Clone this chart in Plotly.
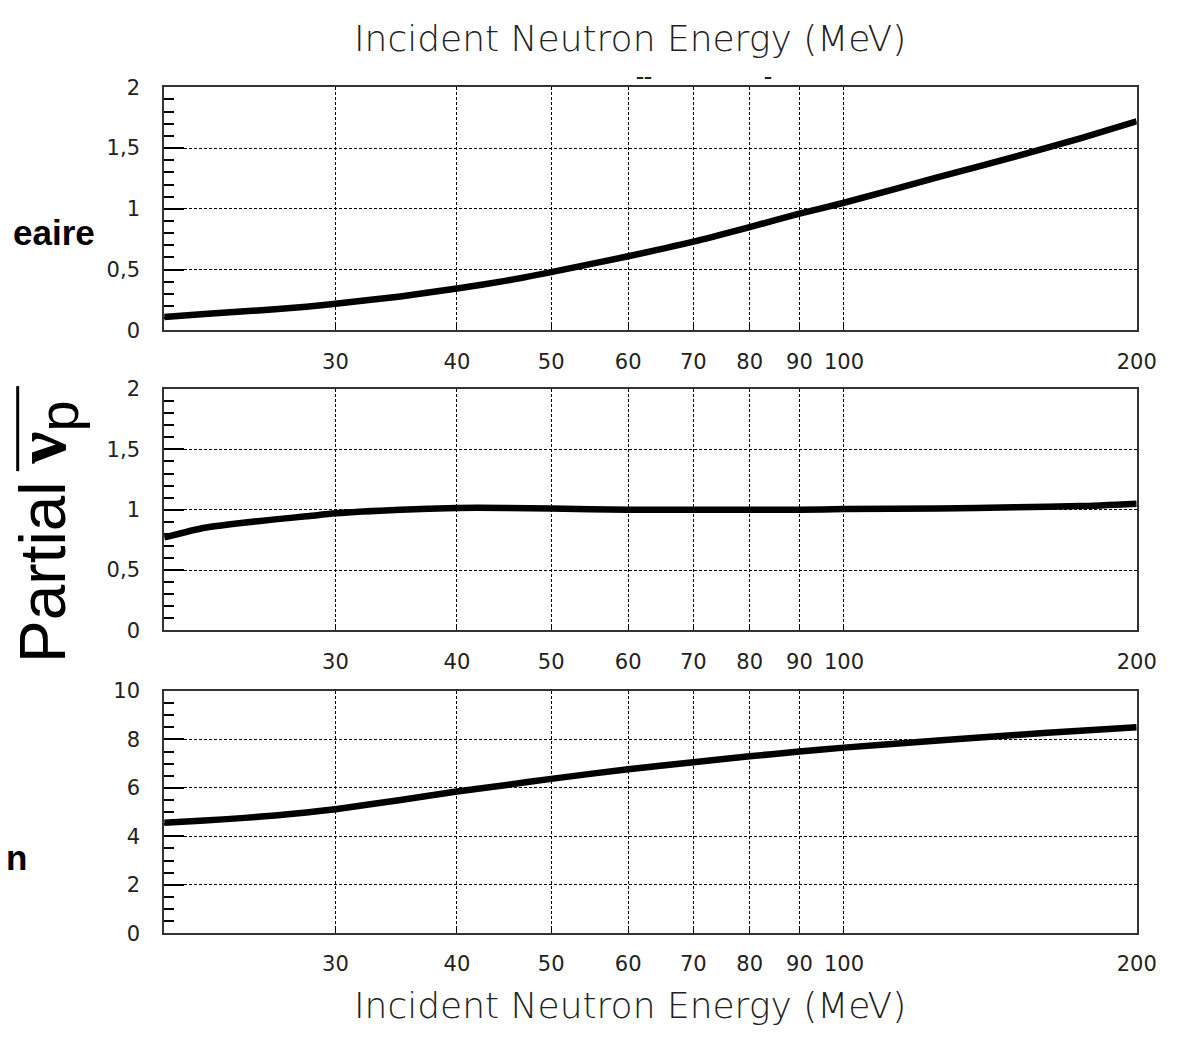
import numpy as np
import plotly.graph_objects as go

# ---------------- data ----------------
energy = [20, 22, 24, 26, 28, 30, 35, 40, 45, 50, 60, 70, 80, 90, 100, 125, 150, 175, 200]
linear_vals = [0.11, 0.135, 0.155, 0.175, 0.195, 0.22, 0.28, 0.345, 0.41, 0.48, 0.61, 0.73,
               0.85, 0.96, 1.05, 1.26, 1.43, 1.58, 1.72]
partial_vals = [0.77, 0.85, 0.89, 0.92, 0.945, 0.97, 1.0, 1.015, 1.015, 1.01, 1.0, 1.0,
                1.0, 1.0, 1.005, 1.01, 1.02, 1.03, 1.05]
bottom_vals = [4.56, 4.65, 4.75, 4.86, 4.98, 5.12, 5.5, 5.85, 6.12, 6.37, 6.77, 7.06,
               7.3, 7.5, 7.66, 7.95, 8.18, 8.36, 8.5]

x_tick_vals = [30, 40, 50, 60, 70, 80, 90, 100, 200]
x_tick_text = ["30", "40", "50", "60", "70", "80", "90", "100", "200"]
y_ticks_small = [0, 0.5, 1, 1.5, 2]
y_text_small = ["0", "0,5", "1", "1,5", "2"]
y_ticks_big = [0, 2, 4, 6, 8, 10]
y_text_big = ["0", "2", "4", "6", "8", "10"]

x_title = "Incident Neutron Energy (MeV)"

# ---------------- layout helpers ----------------
W, H = 1198, 1038


def fx(p):
    return p / W


def fy(p):
    return 1 - p / H


x_domain = [fx(167), fx(1156)]
y_domains = [[fy(326), fy(77)], [fy(633), fy(386)], [fy(943), fy(695)]]

tick_font = dict(family="DejaVu Sans", size=21, color="#222222")
grid_dash = "3px,2px"

fig = go.Figure()

series = [linear_vals, partial_vals, bottom_vals]
for i, vals in enumerate(series):
    suffix = "" if i == 0 else str(i + 1)
    fig.add_trace(go.Scatter(
        x=energy, y=vals, mode="lines",
        line=dict(color="black", width=6.5, shape="spline", smoothing=0.6),
        xaxis="x" + suffix, yaxis="y" + suffix, showlegend=False,
        hoverinfo="skip"))

layout = dict(
    width=W, height=H,
    margin=dict(l=0, r=0, t=0, b=0),
    paper_bgcolor="white", plot_bgcolor="white",
    showlegend=False,
)

for i in range(3):
    suffix = "" if i == 0 else str(i + 1)
    if i < 2:
        yr, yt, ytt, minor_d = [0, 2], y_ticks_small, y_text_small, 0.1
    else:
        yr, yt, ytt, minor_d = [0, 10], y_ticks_big, y_text_big, 0.5
    layout["xaxis" + suffix] = dict(
        type="log", range=[np.log10(20), np.log10(200)],
        domain=x_domain, anchor="y" + suffix,
        tickvals=x_tick_vals, ticktext=x_tick_text,
        ticks="inside", ticklen=5, tickcolor="black", tickwidth=1,
        showline=True, mirror=True, linecolor="#333333", linewidth=2,
        showgrid=True, gridcolor="black", gridwidth=1, griddash=grid_dash,
        zeroline=False, tickfont=tick_font, ticklabelstandoff=11,
    )
    layout["yaxis" + suffix] = dict(
        range=yr, domain=y_domains[i], anchor="x" + suffix,
        tickvals=yt, ticktext=ytt,
        ticks="inside", ticklen=20, tickcolor="black", tickwidth=1.5,
        minor=dict(ticks="inside", ticklen=10, dtick=minor_d, tickcolor="black",
                   tickwidth=1.5, showgrid=False),
        showline=True, mirror=True, linecolor="#333333", linewidth=2,
        showgrid=True, gridcolor="black", gridwidth=1, griddash=grid_dash,
        zeroline=False, tickfont=tick_font, ticklabelstandoff=18,
    )

fig.update_layout(**layout)

title_font = dict(family="DejaVu Sans", size=36, color="#222222", weight=300)
annotations = [
    dict(text=x_title, x=fx(641), y=fy(27), xref="paper", yref="paper",
         showarrow=False, font=title_font, xanchor="center", yanchor="middle"),
    dict(text=x_title, x=fx(641), y=fy(1017), xref="paper", yref="paper",
         showarrow=False, font=title_font, xanchor="center", yanchor="middle"),
    dict(text="<b>eaire</b>", x=fx(99), y=fy(226), xref="paper", yref="paper",
         showarrow=False, xanchor="right", yanchor="middle",
         font=dict(family="Liberation Sans", size=35, color="black")),
    dict(text="<b>n</b>", x=fx(29), y=fy(866), xref="paper", yref="paper",
         showarrow=False, xanchor="right", yanchor="middle",
         font=dict(family="Liberation Sans", size=35, color="black")),
    dict(text="Partial <span style='font-family:Liberation Serif;font-size:72px'><b>ν</b></span>"
              "<sub><span style='font-size:56px'>p</span></sub>",
         x=fx(46), y=fy(532), xref="paper", yref="paper", textangle=-90,
         showarrow=False, xanchor="center", yanchor="middle",
         font=dict(family="Liberation Sans", size=64, color="black")),
    dict(text="<b>––</b>", x=fx(655), y=fy(66), xref="paper", yref="paper",
         showarrow=False, xanchor="center", yanchor="middle",
         font=dict(family="DejaVu Sans", size=16, color="#222222")),
    dict(text="<b>–</b>", x=fx(781), y=fy(66), xref="paper", yref="paper",
         showarrow=False, xanchor="center", yanchor="middle",
         font=dict(family="DejaVu Sans", size=16, color="#222222")),
]
fig.update_layout(annotations=annotations)

# overline above the nu / p symbol
fig.add_shape(type="line", xref="paper", yref="paper",
              x0=fx(18), x1=fx(18), y0=fy(383), y1=fy(470),
              line=dict(color="black", width=3))

fig.write_html("out.html")
